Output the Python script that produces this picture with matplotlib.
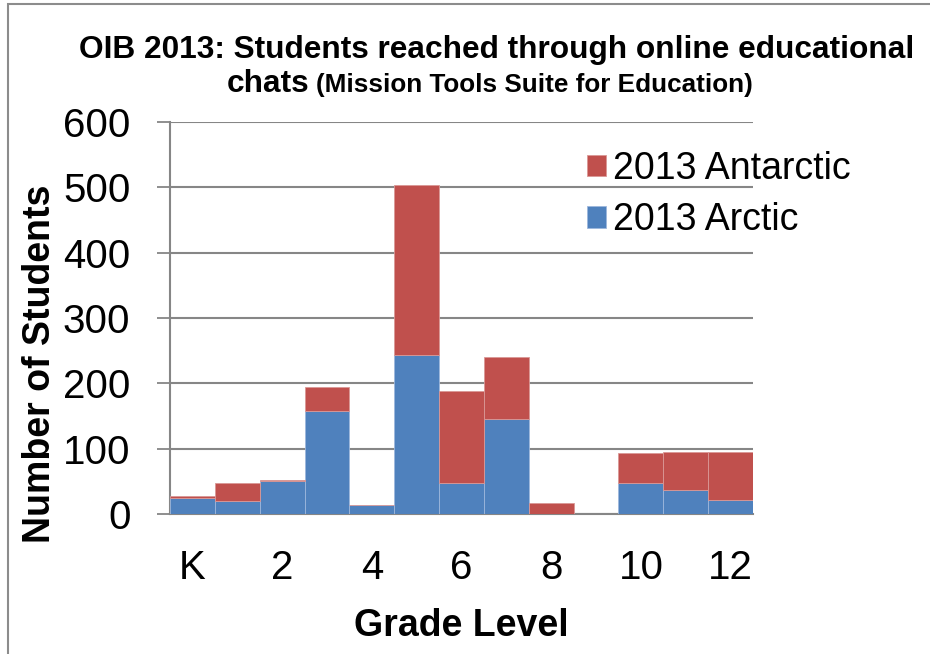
import matplotlib.pyplot as plt
from matplotlib.patches import Rectangle

# Data
grades = ["K", "1", "2", "3", "4", "5", "6", "7", "8", "9", "10", "11", "12"]
arctic = [25, 20, 50, 157, 14, 243, 47, 145, 0, 0, 47, 36, 22]
antarctic = [3, 27, 2, 37, 0, 261, 142, 96, 17, 0, 46, 59, 73]
tick_pos = [0, 2, 4, 6, 8, 10, 12]
tick_labels = ["K", "2", "4", "6", "8", "10", "12"]

RED = "#C0504D"
BLUE = "#4F81BD"
GRID = "#868686"

plt.rcParams["font.family"] = ["Liberation Sans", "DejaVu Sans"]

fig = plt.figure(figsize=(9.3, 6.54), dpi=100)
W, H = 930, 654
ax = fig.add_axes([170 / W, 1 - 514 / H, (753 - 170) / W, (514 - 122) / H])

x = list(range(len(grades)))
ax.bar(x, arctic, width=1.0, color=BLUE, edgecolor="#9DB7DC", linewidth=0.6,
       label="2013 Arctic", zorder=3)
ax.bar(x, antarctic, width=1.0, bottom=arctic, color=RED, edgecolor="#DA9896",
       linewidth=0.6, label="2013 Antarctic", zorder=3)

ax.set_xlim(-0.5, 12.5)
ax.set_ylim(0, 600)
ax.set_yticks(range(0, 601, 100))
ax.set_xticks(tick_pos)
ax.set_xticklabels(tick_labels)
ax.grid(axis="y", color=GRID, linewidth=1.5, zorder=0)
ax.tick_params(axis="y", length=9.5, width=1.3, color=GRID, pad=19, labelsize=29)
ax.tick_params(axis="x", length=0, pad=25, labelsize=29)
for side in ["top", "right"]:
    ax.spines[side].set_visible(False)
ax.spines["left"].set_color(GRID)
ax.spines["left"].set_linewidth(1.5)
ax.spines["bottom"].set_color(GRID)
ax.spines["bottom"].set_linewidth(1.5)

ax.set_xlabel("Grade Level", fontsize=27, fontweight="bold", labelpad=15)
fig.text(40 / W, 1 - 364 / H, "Number of Students", rotation=90, fontsize=27,
         fontweight="bold", ha="center", va="center")

# title (two sizes on the second line)
fig.text(497 / W, 1 - 50 / H, "OIB 2013: Students reached through online educational",
         fontsize=22.8, fontweight="bold", ha="center", va="center")
fig.text(227 / W, 1 - 92 / H, "chats", fontsize=22.8, fontweight="bold",
         ha="left", va="baseline")
fig.text(316 / W, 1 - 92 / H, "(Mission Tools Suite for Education)", fontsize=18.8,
         fontweight="bold", ha="left", va="baseline")

handles, labels = ax.get_legend_handles_labels()
leg = ax.legend(handles[::-1], labels[::-1], loc="upper left",
                bbox_to_anchor=(587 / W, 1 - 151 / H), bbox_transform=fig.transFigure,
                fontsize=27, frameon=False, handlelength=0.5, handleheight=0.5,
                handletextpad=0.2, labelspacing=0.41, borderpad=0, borderaxespad=0)

# outer border of the chart frame
fig.patches.append(Rectangle((8 / W, -0.1), 1.2, 1 - 4 / H + 0.1,
                             transform=fig.transFigure, fill=False,
                             edgecolor="#8C8C8C", linewidth=1.5))

fig.savefig("out.png", dpi=100)
